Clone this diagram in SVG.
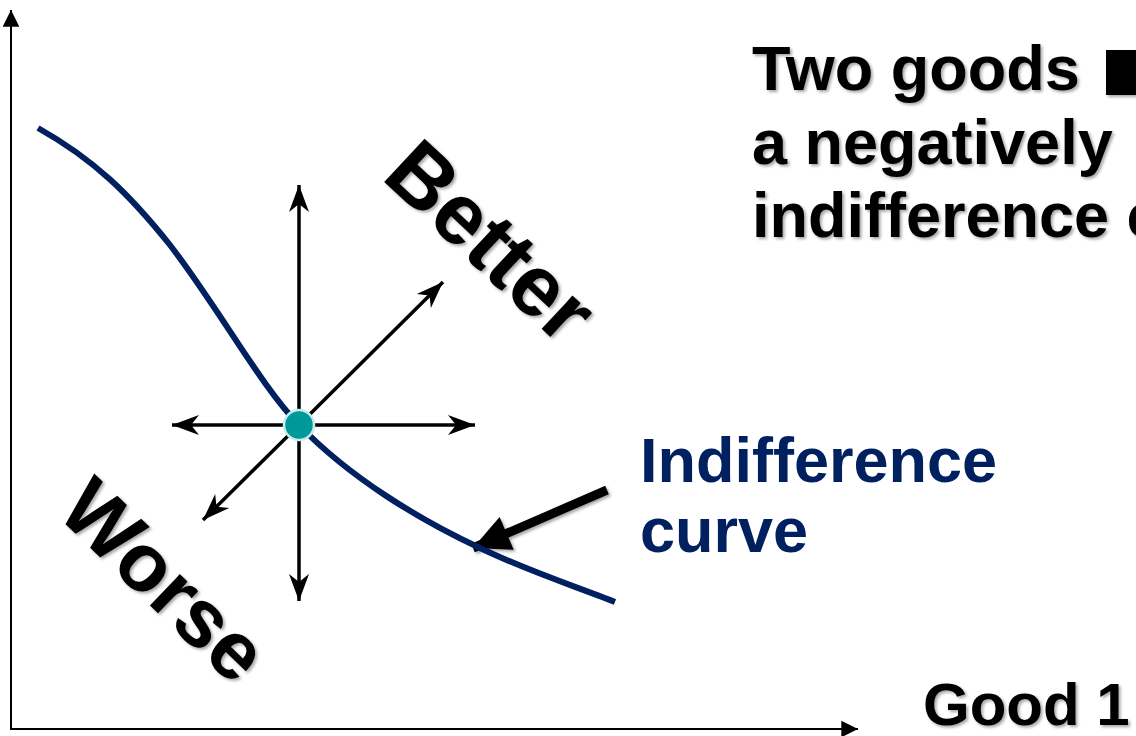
<svg xmlns="http://www.w3.org/2000/svg" width="1136" height="736" viewBox="0 0 1136 736">
<style>
.t{font-family:"Liberation Sans",Arial,sans-serif;font-weight:bold;}
.blk{fill:#000;}
.blue{fill:#002060;}
.ax{stroke:#000;stroke-width:2;fill:none;}
.dir{stroke:#000;stroke-width:3.5;fill:none;}
</style>
<defs>
<filter id="sh" x="-10%" y="-10%" width="130%" height="130%">
<feDropShadow dx="2" dy="2" stdDeviation="1.5" flood-color="#000" flood-opacity="0.35"/>
</filter>
<marker id="axh" markerUnits="userSpaceOnUse" markerWidth="20" markerHeight="20" viewBox="-16 -8 18 16" refX="0" refY="0" orient="auto">
<path d="M0,0 L-15,-7.5 L-15,7.5 Z" fill="#000"/>
</marker>
<marker id="st" markerUnits="userSpaceOnUse" markerWidth="32" markerHeight="32" viewBox="-30 -13 32 26" refX="0" refY="0" orient="auto">
<path d="M0,0 L-27,-10 L-19,0 L-27,10 Z" fill="#000"/>
</marker>
<marker id="big" markerUnits="userSpaceOnUse" markerWidth="44" markerHeight="44" viewBox="-40 -20 42 40" refX="0" refY="0" orient="auto">
<path d="M0,0 L-35,-17 L-35,17 Z" fill="#000"/>
</marker>
</defs>

<g id="axes">
<line class="ax" x1="11" y1="730" x2="11" y2="10" marker-end="url(#axh)"/>
<line class="ax" x1="10" y1="729" x2="858" y2="729" marker-end="url(#axh)"/>
</g>

<g id="connectors">
<line class="dir" x1="299" y1="425" x2="299" y2="185" marker-end="url(#st)"/>
<line class="dir" x1="299" y1="425" x2="299" y2="601" marker-end="url(#st)"/>
<line class="dir" x1="299" y1="425" x2="172" y2="425" marker-end="url(#st)"/>
<line class="dir" x1="299" y1="425" x2="475" y2="425" marker-end="url(#st)"/>
<line class="dir" x1="299" y1="425" x2="443" y2="282" marker-end="url(#st)"/>
<line class="dir" x1="299" y1="425" x2="203" y2="520" marker-end="url(#st)"/>
<line stroke="#000" stroke-width="9" x1="607" y1="490" x2="473" y2="548" marker-end="url(#big)" filter="url(#sh)"/>
</g>

<g id="indifference-curve">
<path d="M38,128 C95,160 130,195 170,245 C220,310 260,385 299,425 C350,478 420,520 480,548 C530,572 575,586 615,602" fill="none" stroke="#002060" stroke-width="6"/>
</g>

<g id="point">
<circle cx="299" cy="425" r="15" fill="#009999" stroke="#c6ecec" stroke-width="2.5"/>
</g>

<g id="title" filter="url(#sh)">
<text class="t blk" x="752" y="90" font-size="63">Two goods</text>
<rect x="1106" y="50" width="40" height="45" fill="#000"/>
<text class="t blk" x="752" y="163.5" font-size="63">a negatively</text>
<text class="t blk" x="752" y="237" font-size="63">indifference c</text>
</g>

<g id="better" filter="url(#sh)">
<text class="t blk" font-size="86" transform="translate(380,178) rotate(43)">Better</text>
</g>

<g id="worse" filter="url(#sh)">
<text class="t blk" font-size="82" transform="translate(55,514) rotate(44)">Worse</text>
</g>

<g id="label-ic">
<text class="t blue" x="640" y="482" font-size="63">Indifference</text>
<text class="t blue" x="640" y="552" font-size="63">curve</text>
</g>

<g id="label-good1" filter="url(#sh)">
<text class="t blk" x="923" y="725" font-size="60">Good 1</text>
</g>
</svg>
